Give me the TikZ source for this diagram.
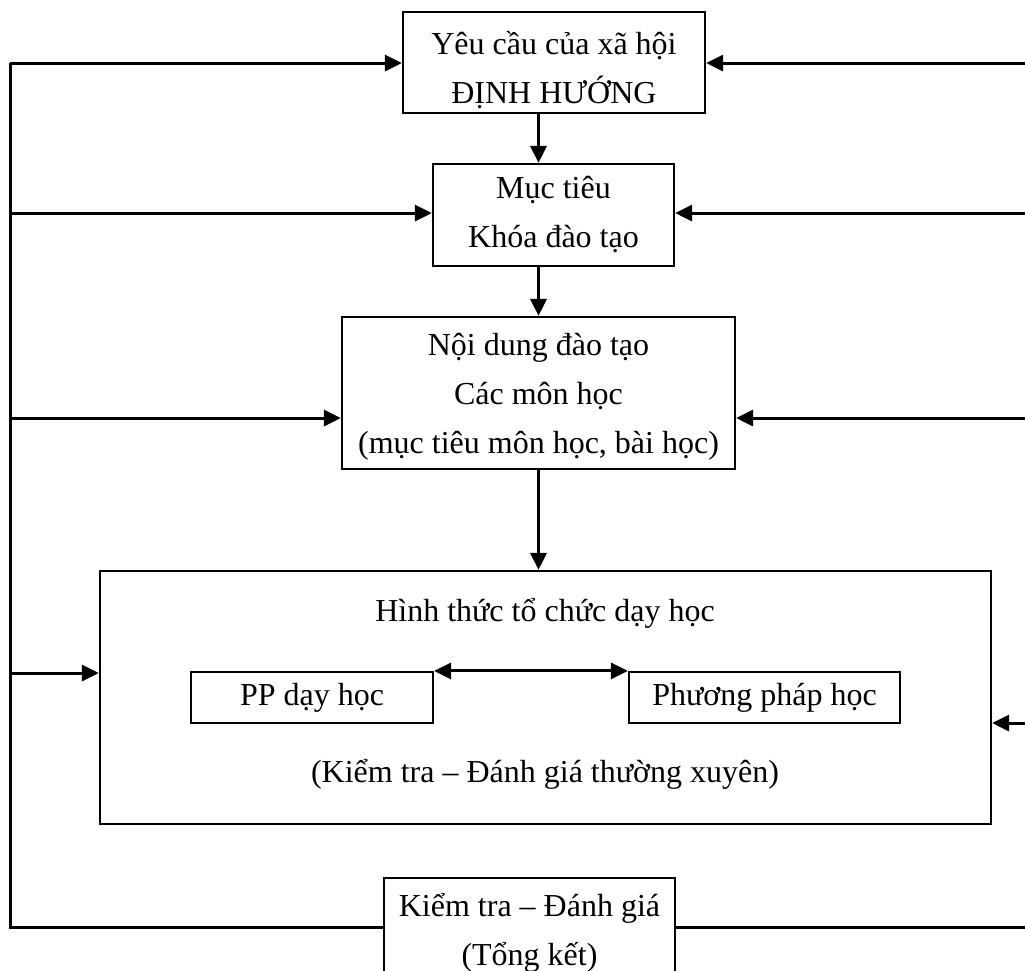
\documentclass[tikz,border=0pt]{standalone}
\usepackage{fontspec}
\setmainfont{Liberation Serif}
\usetikzlibrary{arrows.meta}
\begin{document}
\begin{tikzpicture}[x=0.5pt, y=-0.5pt,
  box/.style = {draw, line width=1.1pt, align=center, inner sep=0pt,
    font=\fontsize{16}{24.5}\selectfont},
  txt/.style = {align=center, font=\fontsize{16}{24.5}\selectfont},
  arr/.style = {line width=1.5pt, -{Triangle[length=8.5pt,width=8pt]}},
  twoway/.style = {line width=1.5pt, {Triangle[length=8.5pt,width=8pt]}-{Triangle[length=8.5pt,width=8pt]}},
  rail/.style = {line width=1.5pt}]
  \useasboundingbox (0,0) rectangle (1025,971);
  % the chain in the middle
  \node[box, minimum width=151pt, minimum height=50.5pt] (req) at (554,62.5) {};
  \node[txt] (reqtext) at (554,70) {Yêu cầu của xã hội\\ĐỊNH HƯỚNG};
  \node[box, minimum width=120.5pt, minimum height=51pt] (goal) at (553.5,215)
    {Mục tiêu\\Khóa đào tạo};
  \node[box, minimum width=196.5pt, minimum height=76pt] (content) at (538.5,393) {};
  \node[txt] (contenttext) at (538.5,397)
    {Nội dung đào tạo\\Các môn học\\(mục tiêu môn học, bài học)};
  \node[box, minimum width=445.5pt, minimum height=126.5pt] (form) at (545.5,697.5) {};
  \node[txt] (formtitle) at (545,613) {Hình thức tổ chức dạy học};
  \node[txt] (formcheck) at (545,774) {(Kiểm tra – Đánh giá thường xuyên)};
  \node[box, minimum width=121pt, minimum height=25.5pt] (teach) at (312,697.5) {PP dạy học};
  \node[box, minimum width=135.5pt, minimum height=25.5pt] (learn) at (764.5,697.5) {Phương pháp học};
  \node[box, minimum width=145.5pt, minimum height=55pt] (final) at (529.5,933)
    {Kiểm tra – Đánh giá\\(Tổng kết)};

  \draw[arr] (req.south -| content.center) -- (goal.north -| content.center);
  \draw[arr] (goal.south -| content.center) -- (content.north);
  \draw[arr] (content.south) -- (form.north -| content.south);
  \draw[twoway] (teach.north east) -- (learn.north west);

  % feedback rails
  \coordinate (lt) at (10,63);
  \coordinate (lb) at (10,927);
  \coordinate (rt) at (1040,63);
  \coordinate (rb) at (1040,927);
  \draw[rail] (lt) -- (lb) -- (lb -| final.west);
  \draw[rail] (rt) -- (rb) -- (rb -| final.east);
  \foreach \y/\n in {63/req, 213/goal, 418/content, 673/form} {
    \coordinate (l\n) at (10,\y);
    \draw[arr] (l\n) -- (l\n -| \n.west);
  }
  \foreach \y/\n in {63/req, 213/goal, 418/content, 723/form} {
    \coordinate (r\n) at (1040,\y);
    \draw[arr] (r\n) -- (r\n -| \n.east);
  }
\end{tikzpicture}
\end{document}
